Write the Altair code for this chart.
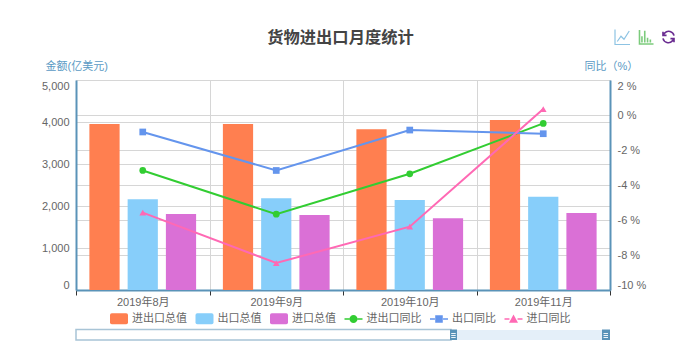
import altair as alt
import pandas as pd

months = ["2019年8月", "2019年9月", "2019年10月", "2019年11月"]
bar_names = ["进出口总值", "出口总值", "进口总值"]
line_names = ["进出口同比", "出口同比", "进口同比"]
total_val = [3952, 3952, 3826, 4048]
export_val = [2160, 2183, 2143, 2222]
import_val = [1810, 1786, 1707, 1833]
total_yoy = [-3.17, -5.67, -3.36, -0.48]
export_yoy = [-0.97, -3.17, -0.86, -1.07]
import_yoy = [-5.58, -8.46, -6.38, 0.34]

bar_colors = ["#ff7f50", "#87cefa", "#da70d6"]
line_colors = ["#32cd32", "#6495ed", "#ff69b4"]
markers = ["circle", "square", "triangle-up"]
FONT = "Liberation Sans, Noto Sans CJK SC, sans-serif"
AXIS = "#5a93b8"
LABEL = "#666666"
GRID = "#d6d6d6"

bars = pd.DataFrame(
    [{"month": m, "series": n, "value": v}
     for n, vals in zip(bar_names, [total_val, export_val, import_val])
     for m, v in zip(months, vals)]
)
lines = pd.DataFrame(
    [{"month": m, "series": n, "yoy": v}
     for n, vals in zip(line_names, [total_yoy, export_yoy, import_yoy])
     for m, v in zip(months, vals)]
)
legend_rows = pd.DataFrame({"series": bar_names + line_names})
one = pd.DataFrame({"k": [0]})

RR = "M-0.8,-0.62H0.8Q1,-0.62 1,-0.42V0.42Q1,0.62 0.8,0.62H-0.8Q-1,0.62 -1,0.42V-0.42Q-1,-0.62 -0.8,-0.62Z"
DASH = "M-1,-0.09H-0.45V0.09H-1ZM0.45,-0.09H1V0.09H0.45Z"
legend_shapes = [
    RR, RR, RR,
    DASH + "M-0.45,0A0.45,0.45 0 1,1 0.45,0A0.45,0.45 0 1,1 -0.45,0Z",
    DASH + "M-0.42,-0.42H0.42V0.42H-0.42Z",
    DASH + "M0,-0.5L0.5,0.42H-0.5Z",
]

x_enc = alt.X(
    "month:N", sort=months, title=None,
    scale=alt.Scale(paddingInner=0, paddingOuter=0),
    axis=alt.Axis(
        labelAngle=0, tickBand="extent", grid=True, gridColor=GRID, gridWidth=1,
        domainColor=AXIS, domainWidth=2, tickColor="#333333", tickSize=5,
        labelColor=LABEL, labelFont=FONT, labelFontSize=11, labelPadding=1.5,
    ),
)
color_scale = alt.Scale(domain=bar_names + line_names, range=bar_colors + line_colors)

y_left = alt.Y(
    "value:Q", scale=alt.Scale(domain=[0, 5000], nice=False),
    axis=alt.Axis(
        title="金额(亿美元)", titleAngle=0, titleX=-31, titleY=-9, titleAlign="left",
        titleColor="#5a9ac4", titleFont=FONT, titleFontSize=11, titleFontWeight="normal",
        values=[0, 1000, 2000, 3000, 4000, 5000], labelExpr="format(datum.value, ',')",
        labelFlush=True,
        grid=True, gridColor=GRID, gridWidth=1, domainColor=AXIS, domainWidth=2,
        ticks=False, labelPadding=7, labelColor=LABEL, labelFont=FONT, labelFontSize=11,
    ),
)
y_right = alt.Y(
    "yoy:Q", scale=alt.Scale(domain=[-10, 2], nice=False),
    axis=alt.Axis(
        title="同比（%）", titleAngle=0, titleX=-26, titleY=-9, titleAlign="left",
        titleColor="#5a9ac4", titleFont=FONT, titleFontSize=11, titleFontWeight="normal",
        orient="right", values=[2, 0, -2, -4, -6, -8, -10],
        labelExpr="datum.value + ' %'", labelFlush=True,
        grid=True, gridColor=GRID, gridWidth=1, domainColor=AXIS, domainWidth=2,
        ticks=False, labelPadding=7, labelColor=LABEL, labelFont=FONT, labelFontSize=11,
    ),
)

legend_cfg = dict(
    orient="none", legendX=34, legendY=229.5, direction="horizontal", columns=6, title=None,
    symbolSize=324, symbolStrokeWidth=0, symbolOpacity=1, symbolStrokeColor="transparent",
    labelFont=FONT, labelFontSize=11,
    labelColor=LABEL, labelOffset=4, columnPadding=8.5, padding=0,
)
color_enc = alt.Color("series:N", scale=color_scale, legend=alt.Legend(**legend_cfg))

bar_layer = alt.Chart(bars).mark_bar().encode(
    x=x_enc,
    xOffset=alt.XOffset("series:N", sort=bar_names,
                        scale=alt.Scale(domain=bar_names, paddingInner=0.21, paddingOuter=0.35)),
    y=y_left,
    color=color_enc,
)
line_layer = alt.Chart(lines).mark_line(strokeWidth=2).encode(
    x=x_enc, y=y_right, color=color_enc,
)
point_layers = [
    alt.Chart(lines).transform_filter(alt.datum.series == n)
    .mark_point(shape=s, filled=True, size=45, opacity=1)
    .encode(x=x_enc, y=y_right, color=color_enc)
    for n, s in zip(line_names, markers)
]
legend_layer = alt.Chart(legend_rows).mark_point(filled=True, opacity=0.001).encode(
    color=color_enc,
    shape=alt.Shape("series:N",
                    scale=alt.Scale(domain=bar_names + line_names, range=legend_shapes),
                    legend=alt.Legend(**legend_cfg)),
)


def box(x1, x2, y1, y2, **kw):
    return alt.Chart(one).mark_rect(**kw).encode(
        x=alt.value(x1), x2=alt.value(x2), y=alt.value(y1), y2=alt.value(y2))


slider = [
    box(0, 375, 249.5, 260, fill="#ffffff", stroke="#a8c4d6", strokeWidth=1.5),
    box(375, 534, 250, 260, fill="#e4eff9"),
    box(374, 381, 249.5, 260, fill=AXIS),
    box(526, 534, 249.5, 260, fill=AXIS),
]
for hx in (375.2, 527.5):
    for hy in (253, 255, 257):
        slider.append(box(hx, hx + 4.5, hy, hy + 0.9, fill="#ffffff"))


def icon(path, px, py, color, size=225, width=1.2):
    return alt.Chart(one).mark_point(shape=path, filled=False, size=size, stroke=color,
                                     strokeWidth=width, opacity=1).encode(
        x=alt.value(px), y=alt.value(py))


icons = [
    icon("M-1,-1V1H1M-0.7,0.6L-0.2,-0.1L0.2,0.3L0.9,-0.8", 546.5, -43, "#8dc3e3"),
    icon("M-1,-1V1H1M-0.65,0.8V-0.1M-0.25,0.8V-0.9M0.15,0.8V0.1M0.55,0.8V0.35", 570.5, -43, "#7ccb7c", size=196, width=1.6),
    icon("M0.85,-0.2A0.85,0.85 0 0,0 -0.6,-0.6L-0.85,-0.25M-0.85,-0.8V-0.25H-0.3"
         "M-0.85,0.2A0.85,0.85 0 0,0 0.6,0.6L0.85,0.25M0.85,0.8V0.25H0.3",
         592.5, -43, "#6a2c91", size=169, width=1.6),
]

right_group = alt.layer(line_layer, *point_layers)
left_group = alt.layer(bar_layer, legend_layer, *slider, *icons)

chart = alt.layer(left_group, right_group).resolve_scale(y="independent").properties(
    width=534, height=210,
    padding={"left": 68, "top": 72, "right": 65, "bottom": 60},
    autosize=alt.AutoSizeParams(type="none"),
    title=alt.TitleParams(
        "货物进出口月度统计", font=FONT, fontSize=16.3, fontWeight="bold", color="#444444",
        anchor="middle", dx=-2.5, dy=19.5, offset=0,
    ),
).configure_view(stroke=None)

chart.save("out.html", embed_options={"renderer": "svg", "actions": False})
